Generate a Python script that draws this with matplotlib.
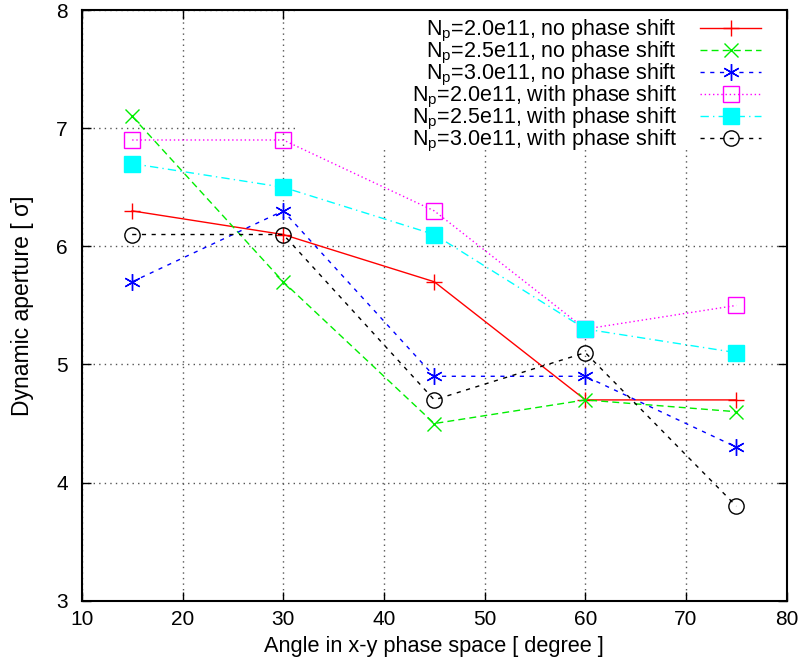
import matplotlib.pyplot as plt
import matplotlib.patches as mpatches
import numpy as np

plt.rcParams['font.family'] = ['Liberation Sans', 'DejaVu Sans']
plt.rcParams['mathtext.fontset'] = 'custom'
plt.rcParams['mathtext.rm'] = 'Liberation Sans'
plt.rcParams['mathtext.it'] = 'Liberation Sans'

# angle in x-y phase space [degree]
angle = [15, 30, 45, 60, 75]

# dynamic aperture [sigma]
np20_noshift = [6.3, 6.1, 5.7, 4.7, 4.7]
np25_noshift = [7.1, 5.7, 4.5, 4.7, 4.6]
np30_noshift = [5.7, 6.3, 4.9, 4.9, 4.3]
np20_shift = [6.9, 6.9, 6.3, 5.3, 5.5]
np25_shift = [6.7, 6.5, 6.1, 5.3, 5.1]
np30_shift = [6.1, 6.1, 4.7, 5.1, 3.8]

labels = ['N$_{\\rm p}$=2.0e11, no phase shift',
          'N$_{\\rm p}$=2.5e11, no phase shift',
          'N$_{\\rm p}$=3.0e11, no phase shift',
          'N$_{\\rm p}$=2.0e11, with phase shift',
          'N$_{\\rm p}$=2.5e11, with phase shift',
          'N$_{\\rm p}$=3.0e11, with phase shift']

fig = plt.figure(figsize=(8.02, 6.69), dpi=100)
ax = fig.add_axes([0.102, 0.102, 0.879, 0.883])

lw = 1.0
ax.plot(angle, np20_noshift, linestyle='-', marker='+', markersize=11, mew=1.0,
        color='#ff0000', lw=lw, label=labels[0])
ax.plot(angle, np25_noshift, linestyle=(0, (5, 3)), marker='x', markersize=10, mew=1.0,
        color='#00ee00', lw=lw, label=labels[1])
ax.plot(angle, np30_noshift, linestyle=(0, (3, 4)), marker=(6, 2, 0), markersize=12, mew=1.0,
        color='#0000ff', lw=lw, label=labels[2])
ax.plot(angle, np20_shift, linestyle=(0, (1, 2)), marker='s', markersize=11, mew=1.0,
        mfc='none', color='#ff00ff', lw=lw, label=labels[3])
ax.plot(angle, np25_shift, linestyle=(0, (6, 3, 1, 3)), marker='s', markersize=11, mew=1.0,
        color='#00ffff', lw=lw, label=labels[4])
ax.plot(angle, np30_shift, linestyle=(0, (3, 4)), marker='o', markersize=11, mew=1.0,
        mfc='none', color='#000000', lw=lw, label=labels[5])

ax.set_xlim(10, 80)
ax.set_ylim(3, 8)
ax.set_xticks(np.arange(10, 81, 10))
ax.set_yticks(np.arange(3, 9, 1))
ax.grid(True, linestyle=(0, (1, 3)), color='#555555', lw=1.0)
ax.set_axisbelow(True)
ax.tick_params(direction='in', top=True, right=True, length=6.5, width=1, labelsize=15)
ax.tick_params(axis='x', pad=7)
ax.tick_params(axis='y', pad=10)
for s in ax.spines.values():
    s.set_linewidth(1.5)

ax.set_xlabel('Angle in x-y phase space [ degree ]', fontsize=15.7, labelpad=5)
ax.set_ylabel('Dynamic aperture [ σ]', fontsize=16.5, labelpad=16)

# white key background hides the grid behind the legend (gnuplot style)
ax.add_patch(mpatches.Rectangle((0.306, 0.764), 0.694, 0.236, transform=ax.transAxes,
                                facecolor='white', edgecolor='none', zorder=0.6))

leg = ax.legend(loc='upper right', bbox_to_anchor=(0.963, 0.9865), markerfirst=False,
                frameon=False, fontsize=15.5, handlelength=2.8, labelspacing=-0.19,
                borderaxespad=0.0, handletextpad=1.1, borderpad=0.0)
for t in leg.get_texts():
    t.set_ha('right')

fig.savefig('out.png', dpi=100)
